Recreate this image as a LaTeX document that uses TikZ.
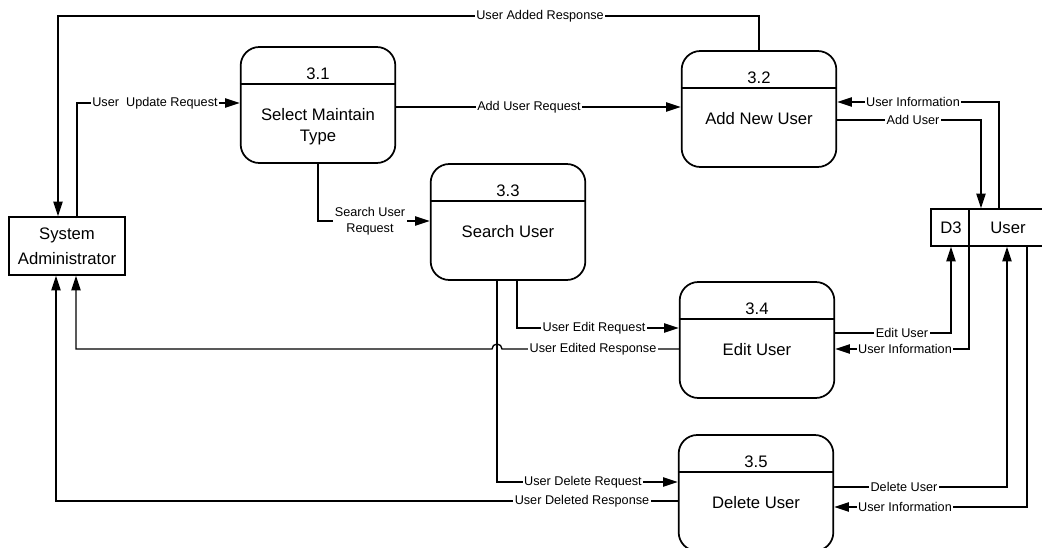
\documentclass[tikz,border=0pt]{standalone}
\usepackage{fontspec}
\setmainfont{Liberation Sans}
\usetikzlibrary{arrows.meta, calc}

\tikzset{
  proc/.style={draw, line width=1.3pt, rounded corners=14pt, minimum width=116pt, minimum height=87pt},
  ent/.style={draw, line width=1.2pt, minimum width=87pt, minimum height=43.5pt, align=center,
    font=\fontsize{12.5}{19}\selectfont},
  num/.style={anchor=base, inner sep=0pt, font=\fontsize{12.5}{15}\selectfont},
  ptext/.style={anchor=north, inner sep=0pt, align=center, font=\fontsize{12.5}{15.5}\selectfont},
  lbl/.style={fill=white, inner sep=1.2pt, align=center, font=\fontsize{9.5}{12}\selectfont},
  flow/.style={line width=1pt, -{Triangle[length=11pt,width=7pt]}}
}

\begin{document}
\begin{tikzpicture}[x=0.75pt, y=-0.75pt]
        \useasboundingbox (0,0) rectangle (1042,548);
        \clip (0,0) rectangle (1042,548);

        \node[ent] (sa) at (67,246) {System\\Administrator};
        \node[proc] (p1) at (318,105) {};
        \node[proc] (p2) at (759,109) {};
        \node[proc] (p3) at (508,222) {};
        \node[proc] (p4) at (757,340) {};
        \node[proc] (p5) at (756,493) {};

        \foreach \p/\n in {p1/3.1, p2/3.2, p3/3.3, p4/3.4, p5/3.5} {
          \draw[line width=1.2pt] ([yshift=-28.5pt]\p.north west) -- ([yshift=-28.5pt]\p.north east);
          \node[num] (\p-n) at ([yshift=-25pt]\p.north) {\n};
        }
        \node[ptext] (p1-t) at ([yshift=-46.5pt]p1.north) {Select Maintain\\Type};
        \node[ptext] (p2-t) at ([yshift=-46.5pt]p2.north) {Add New User};
        \node[ptext] (p3-t) at ([yshift=-46.5pt]p3.north) {Search User};
        \node[ptext] (p4-t) at ([yshift=-46.5pt]p4.north) {Edit User};
        \node[ptext] (p5-t) at ([yshift=-46.5pt]p5.north) {Delete User};

        \node[draw, line width=1.2pt, minimum width=96.75pt, minimum height=27.75pt] (ustore) at (995.5,227.5) {};
        \draw[line width=1.2pt] (ustore.north -| 969,0) -- (ustore.south -| 969,0);
        \node[num, anchor=center] (d3) at (951,228) {D3};
        \node[num, anchor=center] (ustore-t) at (1008,228) {User};

        \draw[flow] (p2.north) |- (58,16) -- (sa.north -| 58,0);
        \draw[flow] (sa.north -| 77,0) |- (p1.west |- 0,103);
        \draw[flow] (p1.east |- 0,107) -- (p2.west |- 0,107);
        \draw[flow] (p1.south) |- (p3.west |- 0,221);
        \draw[flow] (p3.south -| 517,0) |- (p4.west |- 0,328);
        \draw[flow] (p4.west |- 0,349) -- (502,349) arc[start angle=0, end angle=-180, radius=5] -- (76,349) -- (sa.south -| 76,0);
        \draw[flow] (p3.south -| 497,0) |- (p5.west |- 0,482);
        \draw[flow] (p5.west |- 0,501) -| (sa.south -| 56,0);
        \draw[flow] (p2.east |- 0,120) -| (ustore.north -| 981,0);
        \draw[flow] (ustore.north -| 999,0) |- (p2.east |- 0,102);
        \draw[flow] (p4.east |- 0,333) -| (ustore.south -| 951,0);
        \draw[flow] (ustore.south -| 969,0) |- (p4.east |- 0,349);
        \draw[flow] (p5.east |- 0,487) -| (ustore.south -| 1007,0);
        \draw[flow] (ustore.south -| 1027,0) |- (p5.east |- 0,507);

        \node[lbl] (l1) at (540,16) {User Added Response};
        \node[lbl] (l2) at (155,103) {User\ \ Update Request};
        \node[lbl] (l3) at (529,107) {Add User Request};
        \node[lbl] (l4) at (370,221) {Search User\\Request};
        \node[lbl] (l5) at (594,328) {User Edit Request};
        \node[lbl] (l6) at (593,349) {User Edited Response};
        \node[lbl] (l7) at (583,482) {User Delete Request};
        \node[lbl] (l8) at (582,501) {User Deleted Response};
        \node[lbl] (l9) at (913,102) {User Information};
        \node[lbl] (l10) at (913,120) {Add User};
        \node[lbl] (l11) at (902,333) {Edit User};
        \node[lbl] (l12) at (905,349) {User Information};
        \node[lbl] (l13) at (904,487) {Delete User};
        \node[lbl] (l14) at (905,507) {User Information};
    \end{tikzpicture}
\end{document}
